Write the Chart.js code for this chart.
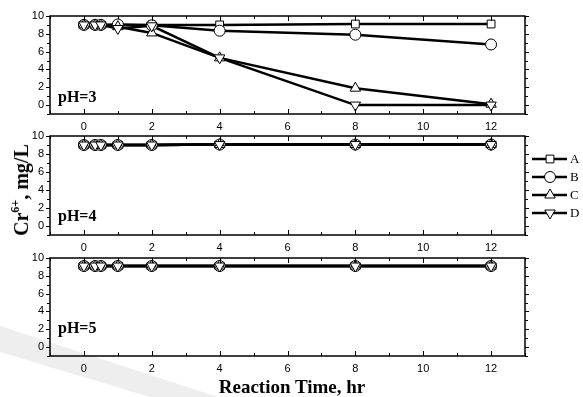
<!DOCTYPE html>
<html>
<head>
<meta charset="utf-8">
<script src="https://cdn.jsdelivr.net/npm/chart.js@4"></script>
<style>
html,body{margin:0;padding:0;background:#fff}
#wrap{position:relative;width:583px;height:397px;overflow:hidden;background:#fff}
#wrap canvas{position:absolute;left:0}
#shade{position:absolute;left:0;top:0;width:583px;height:397px;background:#eeeeee;
  clip-path:polygon(0px 326px,0px 352px,150px 397px,218px 397px)}
#ytitle{position:absolute;left:21px;top:190px;transform:translate(-50%,-50%) rotate(-90deg);
  font:bold 20px "Liberation Serif";white-space:nowrap;line-height:1;color:#000}
#ytitle sup{font-size:12px;vertical-align:9px;line-height:0}
#xtitle{position:absolute;left:292px;top:377px;transform:translateX(-50%);
  font:bold 19px "Liberation Serif";white-space:nowrap;line-height:1;color:#000}
</style>
</head>
<body>
<div id="wrap">
  <div id="shade"></div>
  <canvas id="p3" width="583" height="135" style="top:0"></canvas>
  <canvas id="p4" width="583" height="135" style="top:120px"></canvas>
  <canvas id="p5" width="583" height="135" style="top:242px"></canvas>
  <div id="ytitle">Cr<sup>6+</sup>, mg/L</div>
  <div id="xtitle">Reaction Time, hr</div>
</div>
<script>

// reaction time, hr
const times = [0, 0.33, 0.5, 1, 2, 4, 8, 12]

const names = ["A", "B", "C", "D"]

// Cr6+ concentration, mg/L
const ph3A = [9.0, 9.0, 9.0, 9.0, 9.0, 9.0, 9.1, 9.1]
const ph3B = [9.0, 9.0, 9.0, 9.05, 8.95, 8.35, 7.9, 6.8]
const ph3C = [9.0, 9.0, 9.0, 8.8, 8.1, 5.3, 1.9, 0.1]
const ph3D = [9.0, 9.0, 9.0, 8.6, 8.9, 5.3, 0.0, 0.0]

const ph4A = [9.0, 9.0, 9.0, 9.0, 9.0, 9.05, 9.05, 9.05]
const ph4B = [9.0, 9.0, 9.0, 9.0, 9.0, 9.05, 9.05, 9.05]
const ph4C = [9.0, 9.0, 9.0, 9.0, 9.0, 9.05, 9.05, 9.05]
const ph4D = [9.0, 9.0, 9.0, 9.0, 9.0, 9.05, 9.05, 9.05]

const ph5A = [9.1, 9.1, 9.1, 9.1, 9.1, 9.1, 9.1, 9.1]
const ph5B = [9.1, 9.1, 9.1, 9.1, 9.1, 9.1, 9.1, 9.1]
const ph5C = [9.1, 9.1, 9.1, 9.1, 9.1, 9.1, 9.1, 9.1]
const ph5D = [9.1, 9.1, 9.1, 9.1, 9.1, 9.1, 9.1, 9.1]

const xTicks = [0, 2, 4, 6, 8, 10, 12]
const yTicks = [0, 2, 4, 6, 8, 10]

const styles = ["rect", "circle", "triangle", "triangle"]
const rotations = [0, 0, 0, 180]
const radii = [5.5, 5.5, 6, 6]


// frame, inward x ticks, outward y ticks, and the pH label
const framePlugin = {
    id: "frame",
    afterDraw(chart, args, opts){
        const ctx = chart.ctx
        const a = chart.chartArea
        const x = chart.scales.x
        const y = chart.scales.y

        ctx.save()
        ctx.strokeStyle = "#000"
        ctx.lineWidth = 1.5
        ctx.strokeRect(a.left, a.top, a.right - a.left, a.bottom - a.top)

        ctx.lineWidth = 1
        ctx.beginPath()
        for(let v = Math.ceil(x.min); v <= x.max; v++){
            const px = Math.round(x.getPixelForValue(v)) + 0.5
            const len = v % 2 === 0 ? 5 : 3
            ctx.moveTo(px, a.bottom); ctx.lineTo(px, a.bottom - len)
            ctx.moveTo(px, a.top); ctx.lineTo(px, a.top + len)
        }
        for(let v = Math.ceil(y.min); v <= y.max; v++){
            const py = Math.round(y.getPixelForValue(v)) + 0.5
            const len = v % 2 === 0 ? 4 : 3
            ctx.moveTo(a.left, py); ctx.lineTo(a.left - len, py)
            ctx.moveTo(a.right, py); ctx.lineTo(a.right + len, py)
        }
        ctx.stroke()

        ctx.fillStyle = "#000"
        ctx.font = "bold 16px 'Liberation Serif'"
        ctx.textBaseline = "alphabetic"
        ctx.fillText(opts.text, a.left + opts.dx, a.bottom - opts.lift)
        ctx.restore()
    }
}

// legend drawn at the right of the middle panel
const legendPlugin = {
    id: "sideLegend",
    afterDraw(chart, args, opts){
        if(!opts.show) return
        const ctx = chart.ctx
        ctx.save()
        names.forEach((n, i)=>{
            const yy = 39 + i * 18
            ctx.strokeStyle = "#000"
            ctx.lineWidth = 2.5
            ctx.beginPath()
            ctx.moveTo(532, yy); ctx.lineTo(567, yy)
            ctx.stroke()
            ctx.fillStyle = "#fff"
            ctx.lineWidth = 1
            Chart.helpers.drawPoint(ctx, {
                pointStyle: styles[i],
                radius: radii[i],
                rotation: rotations[i],
                borderWidth: 1
            }, 550, yy)
            ctx.fillStyle = "#000"
            ctx.font = "13px 'Liberation Serif'"
            ctx.textBaseline = "middle"
            ctx.fillText(n, 570, yy + 1)
        })
        ctx.restore()
    }
}


function makePanel(id, series, label, lift, xHeight, showLegend){

    const datasets = []

    series.forEach((vals, i)=>{

        const pts = times.map((t, j)=>({x: t, y: vals[j]}))

        // all lines under all markers
        datasets.push({
            label: names[i],
            data: pts,
            showLine: true,
            borderColor: "#000",
            borderWidth: 2.5,
            pointRadius: 0,
            order: 10
        })

        // D markers end up on top
        datasets.push({
            label: names[i],
            data: pts,
            showLine: false,
            pointStyle: styles[i],
            pointRotation: rotations[i],
            pointRadius: radii[i],
            pointBackgroundColor: "#fff",
            pointBorderColor: "#000",
            pointBorderWidth: 1,
            order: 5 - i
        })

    })

    const tickFont = {family: "Liberation Sans", size: 11}

    new Chart(document.getElementById(id), {
        type: "scatter",
        data: {datasets: datasets},
        plugins: [framePlugin, legendPlugin],
        options: {
            responsive: false,
            animation: false,
            events: [],
            layout: {padding: {top: 16, right: 58, left: 0, bottom: 0}},
            plugins: {
                legend: {display: false},
                tooltip: {enabled: false},
                frame: {text: label, lift: lift, dx: 8},
                sideLegend: {show: showLegend}
            },
            scales: {
                x: {
                    type: "linear",
                    min: -1,
                    max: 13,
                    afterBuildTicks: s=>{ s.ticks = xTicks.map(v=>({value: v})) },
                    afterFit: s=>{ s.height = xHeight },
                    grid: {display: false, drawTicks: false},
                    border: {display: false},
                    ticks: {padding: 6, color: "#000", font: tickFont, maxRotation: 0, autoSkip: false}
                },
                y: {
                    type: "linear",
                    min: -1,
                    max: 10,
                    afterBuildTicks: s=>{ s.ticks = yTicks.map(v=>({value: v})) },
                    afterFit: s=>{ s.width = 50 },
                    grid: {display: false, drawTicks: false},
                    border: {display: false},
                    ticks: {padding: 6, color: "#000", font: tickFont, autoSkip: false}
                }
            }
        }
    })

}

makePanel("p3", [ph3A, ph3B, ph3C, ph3D], "pH=3", 12.5, 21, false)
makePanel("p4", [ph4A, ph4B, ph4C, ph4D], "pH=4", 14, 20, true)
makePanel("p5", [ph5A, ph5B, ph5C, ph5D], "pH=5", 23, 21, false)

</script>
</body>
</html>
